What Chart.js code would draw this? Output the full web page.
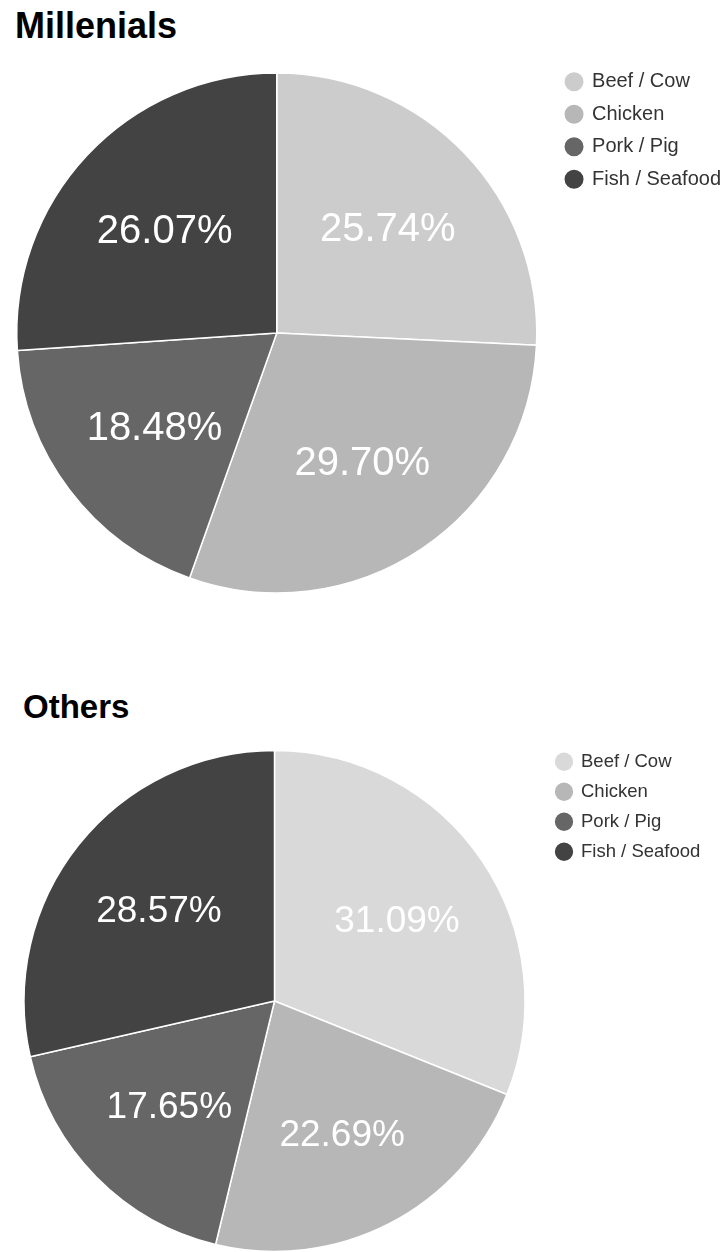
<!DOCTYPE html>
<html>
<head>
<meta charset="utf-8">
<script src="https://cdn.jsdelivr.net/npm/chart.js@4.4.1/dist/chart.umd.min.js"></script>
<style>
  html, body { margin: 0; padding: 0; background: #fff; }
  body { width: 725px; height: 1252px; overflow: hidden; position: relative; }
  .title {
    position: absolute;
    font-family: "Liberation Sans", Arial, sans-serif;
    font-weight: bold;
    line-height: 1;
    color: #000;
    white-space: nowrap;
  }
  canvas { position: absolute; left: 0; }
</style>
</head>
<body>
<div class="title" style="left:15px; top:8px; font-size:36px;">Millenials</div>
<canvas id="millenials" width="725" height="640" style="top:0"></canvas>
<div class="title" style="left:23px; top:690px; font-size:33px;">Others</div>
<canvas id="others" width="725" height="610" style="top:660px"></canvas>
<script>
const foodTypes = ['Beef / Cow', 'Chicken', 'Pork / Pig', 'Fish / Seafood'];
const millenialShares = [25.74, 29.70, 18.48, 26.07];
const otherShares = [31.09, 22.69, 17.65, 28.57];

Chart.defaults.font.family = '"Liberation Sans", Arial, sans-serif';

// white percentage text inside each slice
const sliceLabels = {
  id: 'sliceLabels',
  afterDatasetsDraw(chart, args, opts) {
    const ctx = chart.ctx;
    const meta = chart.getDatasetMeta(0);
    const values = chart.data.datasets[0].data;
    ctx.save();
    ctx.font = opts.size + 'px "Liberation Sans", Arial, sans-serif';
    ctx.fillStyle = '#fff';
    ctx.textAlign = 'center';
    ctx.textBaseline = 'alphabetic';
    meta.data.forEach((arc, i) => {
      const p = arc.getProps(['x', 'y', 'startAngle', 'endAngle', 'outerRadius'], true);
      const mid = (p.startAngle + p.endAngle) / 2;
      const r = p.outerRadius * 0.59;
      ctx.fillText(values[i].toFixed(2) + '%',
        p.x + Math.cos(mid) * r,
        p.y + Math.sin(mid) * r + opts.size * 0.358);
    });
    ctx.restore();
  }
};

function makePie(id, shares, colors, s) {
  return new Chart(document.getElementById(id), {
    type: 'pie',
    data: {
      labels: foodTypes,
      datasets: [{
        data: shares,
        backgroundColor: colors,
        borderColor: '#fff',
        borderWidth: 1.5,
        radius: s.radius
      }]
    },
    options: {
      responsive: false,
      animation: false,
      devicePixelRatio: 1,
      events: [],
      layout: { padding: s.padding },
      plugins: {
        title: { display: false },
        tooltip: { enabled: false },
        legend: {
          position: 'right',
          align: 'start',
          labels: {
            usePointStyle: true,
            pointStyle: 'circle',
            color: '#333',
            font: { size: s.legendSize },
            padding: s.legendPad,
            boxWidth: s.boxWidth,
            boxHeight: s.boxHeight
          }
        },
        sliceLabels: { size: s.labelSize }
      }
    },
    plugins: [sliceLabels]
  });
}

makePie('millenials', millenialShares, ['#cccccc', '#b7b7b7', '#666666', '#434343'], {
  radius: 260,
  padding: { left: -3.5, right: -6, top: 59.2, bottom: 33.2 },
  legendSize: 20, legendPad: 12.5, boxWidth: 16, boxHeight: 14.5,
  labelSize: 40
});

makePie('others', otherShares, ['#d9d9d9', '#b7b7b7', '#666666', '#434343'], {
  radius: 250.5,
  padding: { left: 4.25, right: 14.7, top: 81, bottom: 9 },
  legendSize: 18.5, legendPad: 11.5, boxWidth: 15.5, boxHeight: 14,
  labelSize: 37
});
</script>
</body>
</html>
